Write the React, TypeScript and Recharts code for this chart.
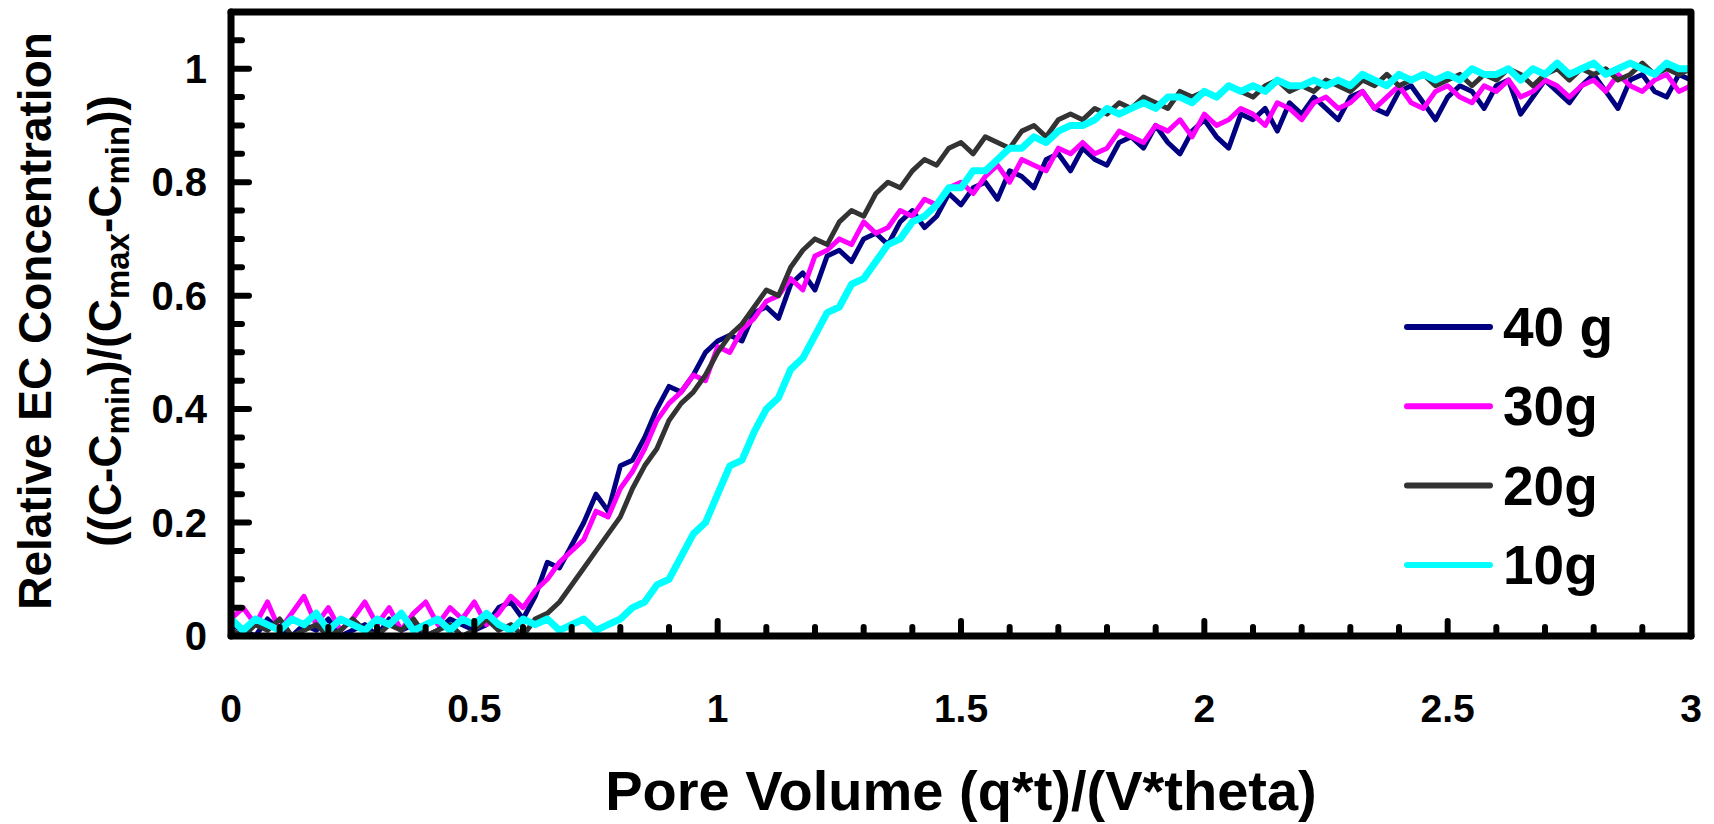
import React from "react";
import { LineChart, Line, XAxis, YAxis } from "recharts";

const poreVolume = [
  0, 0.025, 0.05, 0.075, 0.1, 0.125, 0.15, 0.175, 0.2, 0.225,
  0.25, 0.275, 0.3, 0.325, 0.35, 0.375, 0.4, 0.425, 0.45, 0.475,
  0.5, 0.525, 0.55, 0.575, 0.6, 0.625, 0.65, 0.675, 0.7, 0.725,
  0.75, 0.775, 0.8, 0.825, 0.85, 0.875, 0.9, 0.925, 0.95, 0.975,
  1, 1.025, 1.05, 1.075, 1.1, 1.125, 1.15, 1.175, 1.2, 1.225,
  1.25, 1.275, 1.3, 1.325, 1.35, 1.375, 1.4, 1.425, 1.45, 1.475,
  1.5, 1.525, 1.55, 1.575, 1.6, 1.625, 1.65, 1.675, 1.7, 1.725,
  1.75, 1.775, 1.8, 1.825, 1.85, 1.875, 1.9, 1.925, 1.95, 1.975,
  2, 2.025, 2.05, 2.075, 2.1, 2.125, 2.15, 2.175, 2.2, 2.225,
  2.25, 2.275, 2.3, 2.325, 2.35, 2.375, 2.4, 2.425, 2.45, 2.475,
  2.5, 2.525, 2.55, 2.575, 2.6, 2.625, 2.65, 2.675, 2.7, 2.725,
  2.75, 2.775, 2.8, 2.825, 2.85, 2.875, 2.9, 2.925, 2.95, 2.975,
  3,
];

const g40 = [
  0.02, 0.01, 0.0, 0.03, 0.01, 0.0, 0.02, 0.01, 0.03, 0.0,
  0.01, 0.02, 0.0, 0.03, 0.01, 0.02, 0.0, 0.01, 0.03, 0.02,
  0.01, 0.02, 0.05, 0.06, 0.03, 0.07, 0.13, 0.12, 0.16, 0.2,
  0.25, 0.22, 0.3, 0.31, 0.35, 0.4, 0.44, 0.43, 0.46, 0.5,
  0.52, 0.53, 0.52, 0.57, 0.58, 0.56, 0.62, 0.64, 0.61, 0.67,
  0.68, 0.66, 0.7, 0.71, 0.69, 0.73, 0.75, 0.72, 0.74, 0.78,
  0.76, 0.79, 0.8, 0.77, 0.82, 0.81, 0.79, 0.84, 0.85, 0.82,
  0.86, 0.84, 0.83, 0.87, 0.88, 0.86, 0.9, 0.87, 0.85, 0.89,
  0.91, 0.88, 0.86, 0.92, 0.91, 0.93, 0.89, 0.94, 0.92, 0.95,
  0.93, 0.91, 0.95, 0.96, 0.93, 0.92, 0.96, 0.97, 0.94, 0.91,
  0.95, 0.97, 0.96, 0.93, 0.97, 0.98, 0.92, 0.95, 0.98, 0.96,
  0.94, 0.97, 0.99, 0.96, 0.93, 0.98, 0.99, 0.96, 0.95, 0.99,
  0.98,
];

const g30 = [
  0.03, 0.05, 0.02, 0.06, 0.01, 0.04, 0.07, 0.02, 0.05, 0.01,
  0.03, 0.06, 0.02, 0.05, 0.01, 0.04, 0.06, 0.02, 0.05, 0.03,
  0.06, 0.02, 0.04, 0.07, 0.05, 0.08, 0.1, 0.13, 0.15, 0.17,
  0.22, 0.21, 0.26, 0.29, 0.33, 0.38, 0.41, 0.43, 0.46, 0.45,
  0.51, 0.5, 0.54, 0.56, 0.59, 0.6, 0.63, 0.61, 0.67, 0.68,
  0.7, 0.69, 0.73, 0.71, 0.72, 0.75, 0.74, 0.77, 0.76, 0.79,
  0.8, 0.78, 0.81, 0.83, 0.8, 0.84, 0.83, 0.82, 0.86, 0.85,
  0.87, 0.85, 0.86, 0.89, 0.88, 0.87, 0.9, 0.89, 0.91, 0.88,
  0.92, 0.9, 0.91, 0.93, 0.92, 0.9, 0.94, 0.93, 0.91, 0.94,
  0.95, 0.93, 0.94, 0.96, 0.93, 0.95, 0.97, 0.94, 0.93, 0.96,
  0.97, 0.95, 0.94, 0.97, 0.96, 0.98, 0.95, 0.96, 0.98, 0.97,
  0.95, 0.97, 0.98, 0.96, 0.99, 0.97, 0.96, 0.98, 0.99, 0.96,
  0.97,
];

const g20 = [
  0.01, 0.0, 0.02, 0.01, 0.03, 0.0, 0.01, 0.02, 0.0, 0.01,
  0.03, 0.01, 0.0, 0.02, 0.01, 0.03, 0.0, 0.01, 0.02, 0.0,
  0.01, 0.03, 0.01, 0.02, 0.0, 0.03, 0.04, 0.06, 0.09, 0.12,
  0.15, 0.18, 0.21, 0.26, 0.3, 0.33, 0.38, 0.41, 0.43, 0.46,
  0.5, 0.53, 0.55, 0.58, 0.61, 0.6, 0.65, 0.68, 0.7, 0.69,
  0.73, 0.75, 0.74, 0.78, 0.8, 0.79, 0.82, 0.84, 0.83, 0.86,
  0.87, 0.85, 0.88, 0.87, 0.86, 0.89, 0.9, 0.88, 0.91, 0.92,
  0.91, 0.93, 0.92, 0.94, 0.93, 0.95, 0.94, 0.93, 0.96, 0.95,
  0.96, 0.95, 0.97, 0.96, 0.95, 0.97, 0.98, 0.96, 0.97, 0.96,
  0.98, 0.97, 0.96, 0.98, 0.97, 0.99, 0.97, 0.98, 0.99, 0.97,
  0.98, 0.99, 0.97, 0.99, 0.98, 1.0, 0.99, 0.97, 0.99, 1.0,
  0.98, 1.0, 0.99, 1.0, 0.98, 0.99, 1.01, 0.99, 1.0, 0.99,
  1.0,
];

const g10 = [
  0.03, 0.01, 0.03, 0.02, 0.01, 0.03, 0.02, 0.04, 0.01, 0.03,
  0.02, 0.01, 0.03, 0.02, 0.04, 0.01, 0.02, 0.03, 0.01, 0.03,
  0.02, 0.04, 0.02, 0.01, 0.03, 0.02, 0.03, 0.01, 0.02, 0.03,
  0.01, 0.02, 0.03, 0.05, 0.06, 0.09, 0.1, 0.14, 0.18, 0.2,
  0.25, 0.3, 0.31, 0.36, 0.4, 0.42, 0.47, 0.49, 0.53, 0.57,
  0.58, 0.62, 0.63, 0.66, 0.69, 0.7, 0.73, 0.74, 0.76, 0.79,
  0.79, 0.82, 0.82, 0.84, 0.86, 0.86, 0.88, 0.87, 0.89, 0.9,
  0.9, 0.91, 0.93, 0.92, 0.93, 0.94, 0.93, 0.95, 0.95, 0.94,
  0.96, 0.95, 0.97, 0.96, 0.97, 0.96, 0.98, 0.97, 0.97, 0.98,
  0.97, 0.98, 0.97, 0.99, 0.98, 0.97, 0.99, 0.98, 0.99, 0.98,
  0.99, 0.98, 1.0, 0.99, 0.99, 1.0, 0.98, 1.0, 0.99, 1.01,
  0.99, 1.0, 1.01, 0.99, 1.0, 1.01, 1.0, 0.99, 1.01, 1.0,
  1.0,
];

const series = [
  { key: "g40", name: "40 g", color: "#000080", width: 5 },
  { key: "g30", name: "30g", color: "#FF00FF", width: 5 },
  { key: "g20", name: "20g", color: "#333333", width: 5 },
  { key: "g10", name: "10g", color: "#00FFFF", width: 7 },
];

const xTicks = [
  0, 0.1, 0.2, 0.3, 0.4, 0.5, 0.6, 0.7, 0.8, 0.9, 1, 1.1, 1.2, 1.3, 1.4, 1.5,
  1.6, 1.7, 1.8, 1.9, 2, 2.1, 2.2, 2.3, 2.4, 2.5, 2.6, 2.7, 2.8, 2.9, 3,
];
const xLabels = [0, 0.5, 1, 1.5, 2, 2.5, 3];
const yTicks = [
  0, 0.05, 0.1, 0.15, 0.2, 0.25, 0.3, 0.35, 0.4, 0.45, 0.5, 0.55, 0.6, 0.65,
  0.7, 0.75, 0.8, 0.85, 0.9, 0.95, 1, 1.05,
];
const yLabels = [0, 0.2, 0.4, 0.6, 0.8, 1];

const data = poreVolume.map((x, i) => ({
  x,
  g40: g40[i],
  g30: g30[i],
  g20: g20[i],
  g10: g10[i],
}));

const FONT = "'Liberation Sans', Arial, Helvetica, sans-serif";
const W = 1714;
const H = 824;
const MARGIN = { top: 12, right: 23, bottom: 88, left: 151 };

const isLabel = (list: number[], v: number) =>
  list.some((l) => Math.abs(l - v) < 1e-6);

const XTick = (props: any) => {
  const { x, y, payload } = props;
  const major = isLabel(xLabels, payload.value);
  return (
    <g>
      <line
        x1={x}
        x2={x}
        y1={y}
        y2={y - (major ? 15 : 9)}
        stroke="#000"
        strokeWidth={6}
        strokeLinecap="round"
      />
      {major && (
        <text
          x={x}
          y={y + 72}
          textAnchor="middle"
          dominantBaseline="central"
          fontFamily={FONT}
          fontWeight="bold"
          fontSize={39}
          fill="#000"
        >
          {String(payload.value)}
        </text>
      )}
    </g>
  );
};

const YTick = (props: any) => {
  const { x, y, payload } = props;
  const major = isLabel(yLabels, payload.value);
  return (
    <g>
      <line
        x1={x}
        x2={x + (major ? 18 : 11)}
        y1={y}
        y2={y}
        stroke="#000"
        strokeWidth={6}
        strokeLinecap="round"
      />
      {major && (
        <text
          x={x - 24}
          y={y}
          textAnchor="end"
          dominantBaseline="central"
          fontFamily={FONT}
          fontWeight="bold"
          fontSize={40}
          fill="#000"
        >
          {String(payload.value)}
        </text>
      )}
    </g>
  );
};

// y title, plot frame (top/right) and legend drawn in the y axis label layer
const Decor = (props: any) => {
  const vb = props.viewBox;
  const top = vb.y;
  const bottom = vb.y + vb.height;
  const left = vb.x + vb.width;
  const right = W - MARGIN.right;
  const cy = top + vb.height / 2;
  return (
    <g fontFamily={FONT} fontWeight="bold" fill="#000">
      <text
        transform={`translate(51, ${cy - 3}) rotate(-90)`}
        textAnchor="middle"
        fontSize={46}
      >
        Relative EC Concentration
      </text>
      <text
        transform={`translate(121, ${cy - 3}) rotate(-90)`}
        textAnchor="middle"
        fontSize={46}
      >
        ((C-C
        <tspan fontSize={33} dy={8}>min</tspan>
        <tspan dy={-8}>)/(C</tspan>
        <tspan fontSize={33} dy={8}>max</tspan>
        <tspan dy={-8}>-C</tspan>
        <tspan fontSize={33} dy={8}>min</tspan>
        <tspan dy={-8}>))</tspan>
      </text>
      <polyline
        points={`${left},${top} ${right},${top} ${right},${bottom}`}
        fill="none"
        stroke="#000"
        strokeWidth={7}
        strokeLinecap="round"
        strokeLinejoin="round"
      />
      {series.map((s, i) => (
        <g key={s.key} transform={`translate(1407, ${327 + i * 79.3})`}>
          <line
            x1={0}
            x2={83}
            y1={0}
            y2={0}
            stroke={s.color}
            strokeWidth={6}
            strokeLinecap="round"
          />
          <text x={96} y={0} dominantBaseline="central" fontSize={55}>
            {s.name}
          </text>
        </g>
      ))}
    </g>
  );
};

const XTitle = (props: any) => {
  const vb = props.viewBox;
  return (
    <text
      x={vb.x + vb.width / 2}
      y={vb.y + 154}
      textAnchor="middle"
      dominantBaseline="central"
      fontFamily={FONT}
      fontWeight="bold"
      fontSize={56}
      fill="#000"
    >
      Pore Volume (q*t)/(V*theta)
    </text>
  );
};

const axisLine = {
  stroke: "#000",
  strokeWidth: 7,
  strokeLinecap: "round" as const,
};

export default function App() {
  return (
    <div style={{ position: "absolute", left: 0, top: 0 }}>
      <LineChart width={W} height={H} data={data} margin={MARGIN}>
        {series.map((s) => (
          <Line
            key={s.key}
            type="linear"
            dataKey={s.key}
            name={s.name}
            stroke={s.color}
            strokeWidth={s.width}
            strokeLinejoin="round"
            dot={false}
            activeDot={false}
            isAnimationActive={false}
          />
        ))}
        <XAxis
          dataKey="x"
          type="number"
          domain={[0, 3]}
          ticks={xTicks}
          interval={0}
          height={100}
          axisLine={axisLine}
          tickLine={false}
          tickSize={0}
          tickMargin={0}
          tick={<XTick />}
          label={<XTitle />}
        />
        <YAxis
          type="number"
          domain={[0, 1.1]}
          ticks={yTicks}
          interval={0}
          width={80}
          axisLine={axisLine}
          tickLine={false}
          tickSize={0}
          tickMargin={0}
          tick={<YTick />}
          label={<Decor />}
        />
      </LineChart>
    </div>
  );
}
